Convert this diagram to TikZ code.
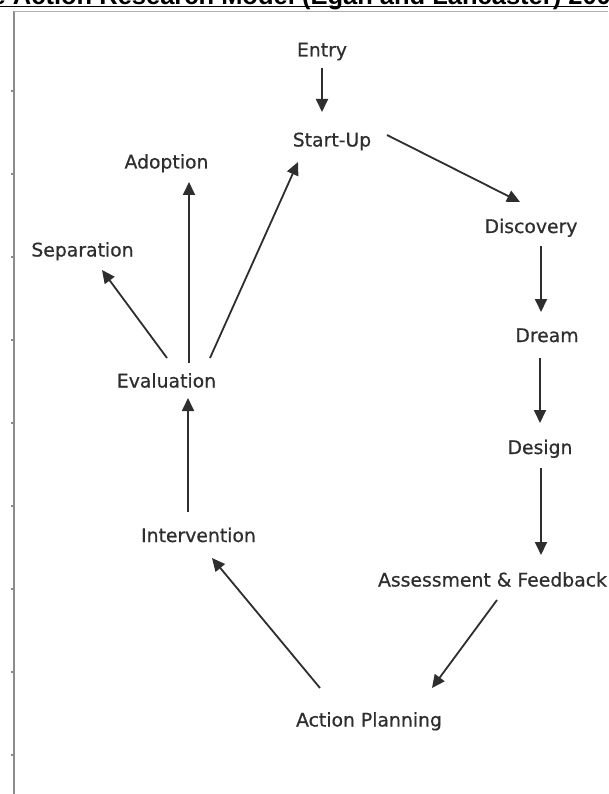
\documentclass[tikz,border=0pt]{standalone}
\usepackage{fontspec}
\setmainfont{DejaVu Sans}
\newfontfamily\lblfont[FakeBold=0.6]{DejaVu Sans}
\newfontfamily\titlefont{Liberation Sans}
\usetikzlibrary{arrows.meta,calc}
\definecolor{ink}{HTML}{2E2E2E}
\definecolor{framegray}{HTML}{8C8C8C}
\begin{document}
\begin{tikzpicture}[x=1pt,y=1pt,
  lbl/.style={font=\lblfont\fontsize{18.8}{22}\selectfont, text=ink, inner sep=0pt, anchor=base},
  arr/.style={draw=ink, line width=1.8pt, -{Triangle[length=13pt,width=12pt]}},
  framestyle/.style={draw=framegray, line width=1.4pt}]
\useasboundingbox (0,0) rectangle (608,-794);
\clip (0,0) rectangle (608,-794);
\fill[white] (0,0) rectangle (608,-794);
% cropped title
\node[font=\titlefont\bfseries\fontsize{25.5}{28}\selectfont, anchor=base west, inner sep=0pt] (title) at (-8.5,-4.5) {e Action Research Model (Egan and Lancaster) 200};
\draw[line width=1.6pt] (0,-6.7) -- (608,-6.7);
% frame
\draw[framestyle] (13.8,-794) -- (13.8,-11.5);
\draw[framestyle, draw=framegray!70] (13.8,-11.5) -- (608,-11.5);
\foreach \yy in {91,174,257,340,423,506,589,672,755}
  \draw[framestyle, line width=1.2pt] (10.5,-\yy) -- (13.8,-\yy);
% nodes
\node[lbl] (entry) at (322,-56.5) {Entry};
\node[lbl] (startup) at (332,-146.5) {Start-Up};
\node[lbl] (discovery) at (531,-233) {Discovery};
\node[lbl] (dream) at (547,-342) {Dream};
\node[lbl] (design) at (540,-454) {Design};
\node[lbl] (assess) at (492.5,-586.5) {Assessment \& Feedback};
\node[lbl] (action) at (369,-726.5) {Action Planning};
\node[lbl] (intervention) at (198.5,-542) {Intervention};
\node[lbl] (evaluation) at (166.5,-387.5) {Evaluation};
\node[lbl] (separation) at (82.5,-256.5) {Separation};
\node[lbl] (adoption) at (166.5,-168.5) {Adoption};
% connectors (offsets from each node's base point)
\draw[arr] ($(entry.base)+(0,-11.5)$) -- ($(startup.base)+(-10,34.5)$);
\draw[arr] ($(startup.base)+(55,11.5)$) -- ($(discovery.base)+(-11,31)$);
\draw[arr] ($(discovery.base)+(10,-13)$) -- ($(dream.base)+(-6,30)$);
\draw[arr] ($(dream.base)+(-7,-16)$) -- ($(design.base)+(0,31)$);
\draw[arr] ($(design.base)+(1,-14)$) -- ($(assess.base)+(48.5,31.5)$);
\draw[arr] ($(assess.base)+(4.5,-13.5)$) -- ($(action.base)+(63,38.5)$);
\draw[arr] ($(action.base)+(-49,38.5)$) -- ($(intervention.base)+(13.5,-16)$);
\draw[arr] ($(intervention.base)+(-10.5,30)$) -- ($(evaluation.base)+(21.5,-10.5)$);
\draw[arr] ($(evaluation.base)+(0.5,29.5)$) -- ($(separation.base)+(19.5,-13.5)$);
\draw[arr] ($(evaluation.base)+(22.5,24.5)$) -- ($(adoption.base)+(22.5,-13.5)$);
\draw[arr] ($(evaluation.base)+(43.5,29.5)$) -- ($(startup.base)+(-34,-15.5)$);
\end{tikzpicture}
\end{document}
